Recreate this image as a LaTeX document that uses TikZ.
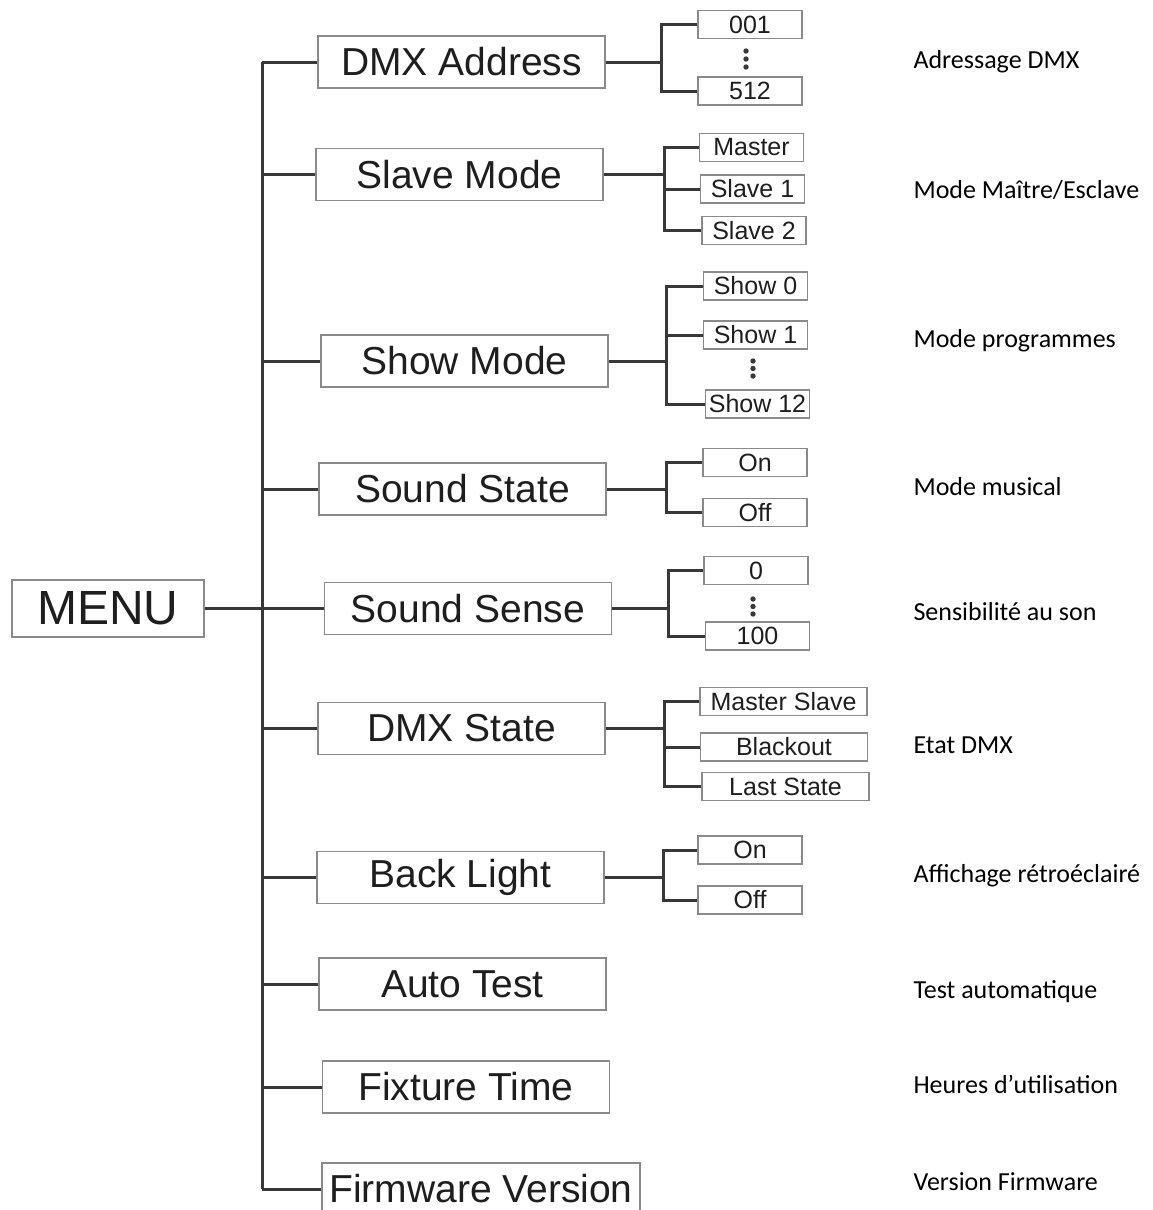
\documentclass[tikz,border=0pt]{standalone}
\usepackage{fontspec}
\setmainfont{Carlito}
\newfontfamily\boxfont{Liberation Sans}
\usetikzlibrary{positioning}
\definecolor{boxgray}{HTML}{8A8A8A}
\definecolor{linegray}{HTML}{383838}
\definecolor{txt}{HTML}{1E1E1E}

\begin{document}
\begin{tikzpicture}[x=1pt, y=-1pt, menubox/.style={draw=boxgray, line width=1.6pt, minimum width=192, minimum height=57, inner sep=0pt, text=txt, font=\boxfont\fontsize{48}{50}\selectfont}, mainbox/.style={draw=boxgray, line width=1.6pt, minimum width=287, minimum height=52, inner sep=0pt, text=txt, font=\boxfont\fontsize{39}{41}\selectfont}, subbox/.style={draw=boxgray, line width=1.3pt, minimum width=104, minimum height=28, inner sep=0pt, text=txt, font=\boxfont\fontsize{25}{27}\selectfont}, wide/.style={minimum width=167}, link/.style={draw=linegray, line width=3pt}, note/.style={anchor=base west, font=\fontsize{26}{28}\selectfont}]
\useasboundingbox (0,0) rectangle (1152,1210);
\node[menubox] (menu) at (108,608.5) {MENU};
\node[mainbox] (addr) at (461.5,62) {DMX Address};
\node[mainbox] (slave) at (459.5,174.5) {Slave Mode};
\node[mainbox] (show) at (464.5,361) {Show Mode};
\node[mainbox] (state) at (462.5,489) {Sound State};
\node[mainbox] (sense) at (468,608.5) {Sound Sense};
\node[mainbox] (dmx) at (461.5,728.5) {DMX State};
\node[mainbox] (light) at (460.5,877.5) {Back Light};
\node[mainbox] (test) at (462.5,984) {Auto Test};
\node[mainbox] (time) at (466,1087) {Fixture Time};
\node[mainbox, minimum width=318] (firm) at (481,1189) {Firmware Version};
\coordinate (trunk) at (262,0);
\draw[link] (menu.east) -- (sense.west);
\draw[link] (trunk |- addr.west) -- (trunk |- firm.west);
\draw[link] (trunk |- addr.west) -- (addr.west);\draw[link] (trunk |- slave.west) -- (slave.west);\draw[link] (trunk |- show.west) -- (show.west);
\draw[link] (trunk |- state.west) -- (state.west);\draw[link] (trunk |- dmx.west) -- (dmx.west);\draw[link] (trunk |- light.west) -- (light.west);
\draw[link] (trunk |- test.west) -- (test.west);\draw[link] (trunk |- time.west) -- (time.west);\draw[link] (trunk |- firm.west) -- (firm.west);
\node[subbox] (a001) at (750,24.5) {001};
\node[subbox] (a512) at (750,91) {512};
\foreach \y in {51,59,67} \fill[linegray] (746,\y) circle (2.7);
\coordinate (ta) at (661,0);
\draw[link] (addr.east) -- (ta |- addr.east);\draw[link] (a001.west) -- (ta |- a001.west) -- (ta |- a512.west) -- (a512.west);
\node[subbox] (master) at (751.5,147.5) {Master};
\node[subbox] (slave1) at (752.5,189) {Slave 1};
\node[subbox] (slave2) at (754,230.5) {Slave 2};
\coordinate (tb) at (664,0);
\draw[link] (slave.east) -- (tb |- slave.east);\draw[link] (master.west) -- (tb |- master.west) -- (tb |- slave2.west) -- (slave2.west);\draw[link] (tb |- slave1.west) -- (slave1.west);
\node[subbox] (show0) at (755.5,286) {Show 0};
\node[subbox] (show1) at (755.5,335) {Show 1};
\node[subbox] (show12) at (757.5,404) {Show 12};
\foreach \y in {361,368.5,376} \fill[linegray] (753,\y) circle (2.7);
\coordinate (tc) at (666,0);
\draw[link] (show.east) -- (tc |- show.east);\draw[link] (show0.west) -- (tc |- show0.west) -- (tc |- show12.west) -- (show12.west);\draw[link] (tc |- show1.west) -- (show1.west);
\node[subbox] (son) at (755,462.5) {On};
\node[subbox] (soff) at (755,512.5) {Off};
\coordinate (td) at (666,0);
\draw[link] (state.east) -- (td |- state.east);\draw[link] (son.west) -- (td |- son.west) -- (td |- soff.west) -- (soff.west);
\node[subbox] (zero) at (756,570.5) {0};
\node[subbox] (hundred) at (757.5,636) {100};
\foreach \y in {599,606.5,614} \fill[linegray] (753,\y) circle (2.7);
\coordinate (te) at (668,0);
\draw[link] (sense.east) -- (te |- sense.east);\draw[link] (zero.west) -- (te |- zero.west) -- (te |- hundred.west) -- (hundred.west);
\node[subbox, wide] (mslave) at (783.5,701.5) {Master Slave};
\node[subbox, wide] (black) at (784,747) {Blackout};
\node[subbox, wide] (last) at (785.5,786.5) {Last State};
\coordinate (tf) at (664,0);
\draw[link] (dmx.east) -- (tf |- dmx.east);\draw[link] (mslave.west) -- (tf |- mslave.west) -- (tf |- last.west) -- (last.west);\draw[link] (tf |- black.west) -- (black.west);
\node[subbox] (lon) at (750,850) {On};
\node[subbox] (loff) at (750,900) {Off};
\coordinate (tg) at (663,0);
\draw[link] (light.east) -- (tg |- light.east);\draw[link] (lon.west) -- (tg |- lon.west) -- (tg |- loff.west) -- (loff.west);
\node[note] (n1) at (910,68) {Adressage DMX};
\node[note] (n2) at (910,198) {Mode Maître/Esclave};
\node[note] (n3) at (910,347) {Mode programmes};
\node[note] (n4) at (910,495) {Mode musical};
\node[note] (n5) at (910,620) {Sensibilité au son};
\node[note] (n6) at (910,753) {Etat DMX};
\node[note] (n7) at (910,882) {Affichage rétroéclairé};
\node[note] (n8) at (910,998) {Test automatique};
\node[note] (n9) at (910,1093) {Heures d’utilisation};
\node[note] (n10) at (910,1190) {Version Firmware};
\end{tikzpicture}
\end{document}
